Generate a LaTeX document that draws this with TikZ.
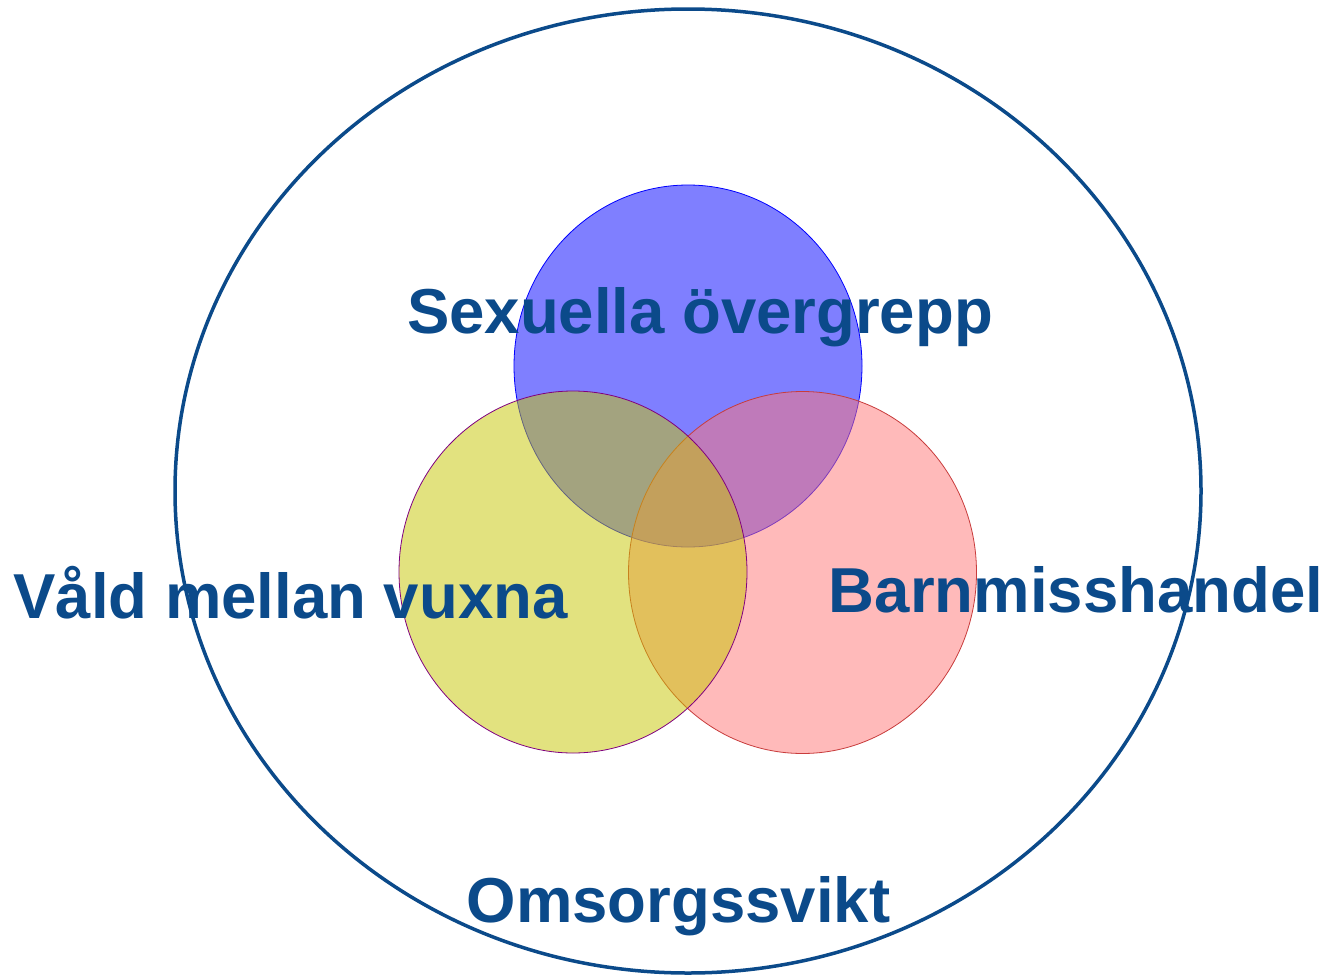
\documentclass[tikz,border=0pt]{standalone}
\usepackage{fontspec}
\setmainfont{Liberation Sans}
\definecolor{navy}{RGB}{11,74,138}
\definecolor{ylw}{RGB}{199,199,0}
\definecolor{pnk}{RGB}{255,119,119}
\definecolor{pnkline}{RGB}{200,60,60}
\definecolor{ylwline}{RGB}{128,0,128}
\tikzset{
  label text/.style={text=navy, inner sep=0pt, anchor=base, font=\fontsize{63.5}{70}\selectfont\bfseries},
  venn/.style={line width=0.8pt, fill opacity=0.5},
}
\begin{document}
\begin{tikzpicture}[x=1pt,y=-1pt]
\useasboundingbox (0,0) rectangle (1331,977);
\fill[white] (0,0) rectangle (1331,977);
% Venn circles (blue, then pink, then yellow on top)
\draw[venn, draw=blue, fill=blue] (688,366) ellipse [x radius=174, y radius=181];
\draw[venn, draw=pnkline, fill=pnk] (802.5,572.5) ellipse [x radius=174, y radius=181];
\draw[venn, draw=ylwline, fill=ylw] (573,572) ellipse [x radius=174, y radius=181];
% labels
\node[label text] (sex) at (700,333) {Sexuella övergrepp};
\node[label text] (vald) at (290.5,618) {Våld mellan vuxna};
\node[label text] (barn) at (1076,612) {Barnmisshandel};
\node[label text] (oms) at (678.5,922) {Omsorgssvikt};
% outer ellipse
\draw[navy, line width=3.5pt] (688,491) ellipse [x radius=513, y radius=482];
\end{tikzpicture}
\end{document}
